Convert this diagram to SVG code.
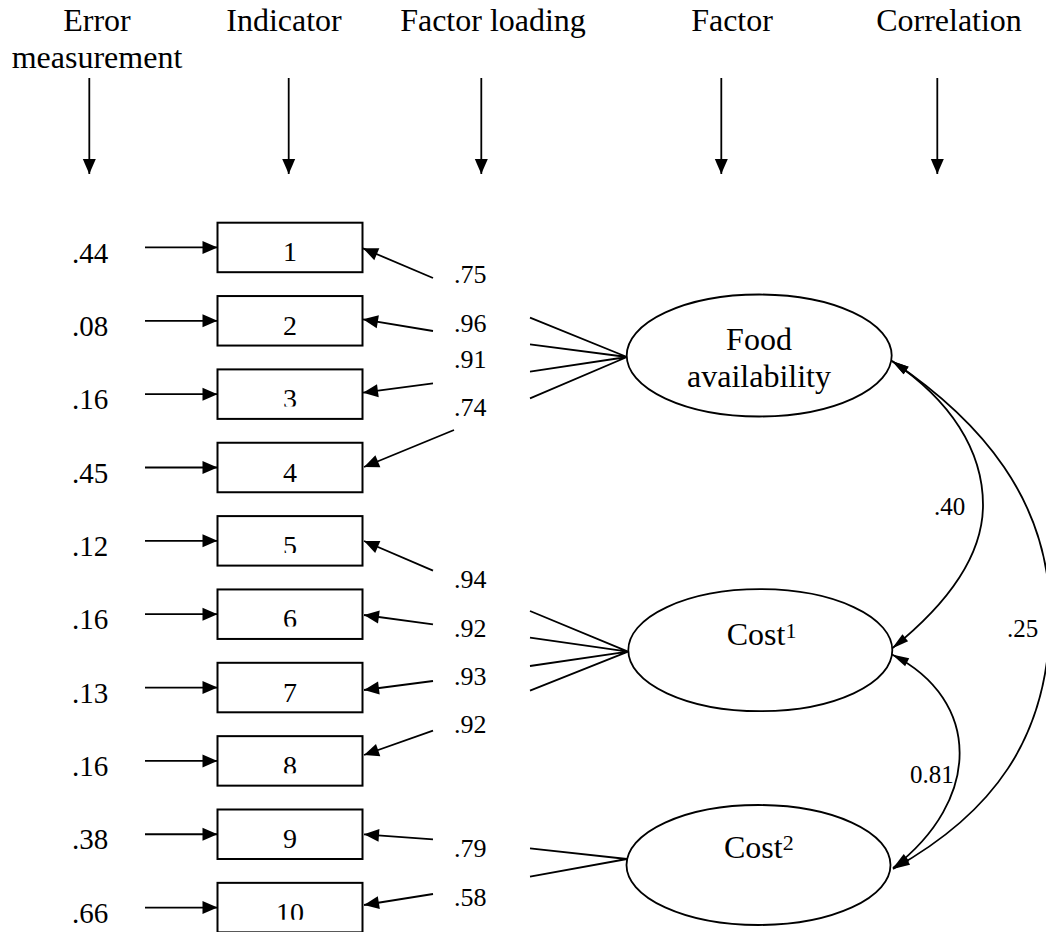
<svg xmlns="http://www.w3.org/2000/svg" width="1046" height="932" viewBox="0 0 1046 932">
  <style>
    text { font-family: "Liberation Serif", "Times New Roman", serif; fill: #000; }
    .hd { font-size: 32px; text-anchor: middle; }
    .err { font-size: 29px; text-anchor: middle; }
    .num { font-size: 28px; text-anchor: middle; }
    .ld { font-size: 26px; }
    .cr { font-size: 25px; }
    .fac { font-size: 32px; }
    .sup { font-size: 22px; }
    .ind rect { fill: #fff; stroke: #000; stroke-width: 2; }
    .fac-node ellipse { fill: #fff; stroke: #000; stroke-width: 1.8; }
    .arr { fill: none; stroke: #000; stroke-width: 1.8; marker-end: url(#head); }
    .fan { fill: none; stroke: #000; stroke-width: 1.8; }
    .cov { fill: none; stroke: #000; stroke-width: 1.8; marker-start: url(#headC); marker-end: url(#headC); }
  </style>
  <defs>
    <marker id="head" markerUnits="userSpaceOnUse" markerWidth="16" markerHeight="14" refX="15" refY="6.5" orient="auto" overflow="visible">
      <path d="M0,0 L15,6.5 L0,13 z" fill="#000"/>
    </marker>
    <marker id="headC" markerUnits="userSpaceOnUse" markerWidth="18" markerHeight="10" refX="17" refY="4.5" orient="auto-start-reverse" overflow="visible">
      <path d="M0,0 L17,4.5 L0,9 z" fill="#000"/>
    </marker>
    <!-- trims the lower edge of the boxed numerals -->
    <clipPath id="trim" clipPathUnits="objectBoundingBox">
      <rect x="-0.1" y="0" width="1.2" height="0.75"/>
    </clipPath>
  </defs>
  <rect width="1046" height="932" fill="#fff"/>

  <!-- column headings -->
  <g id="headers">
    <text class="hd" x="97" y="31">Error</text>
    <text class="hd" x="97" y="68">measurement</text>
    <text class="hd" x="284" y="31">Indicator</text>
    <text class="hd" x="493" y="31">Factor loading</text>
    <text class="hd" x="732" y="31">Factor</text>
    <text class="hd" x="949" y="31">Correlation</text>
  </g>

  <!-- connectors -->
  <g id="connectors">
    <!-- heading arrows -->
    <line class="arr" x1="89.3" y1="78" x2="89.3" y2="174"/>
    <line class="arr" x1="288.7" y1="78" x2="288.7" y2="174"/>
    <line class="arr" x1="481.3" y1="78" x2="481.3" y2="174"/>
    <line class="arr" x1="721.3" y1="78" x2="721.3" y2="174"/>
    <line class="arr" x1="937.3" y1="78" x2="937.3" y2="174"/>

    <!-- error terms into indicators -->
    <line class="arr" x1="145" y1="247.45" x2="217.5" y2="247.45"/>
    <line class="arr" x1="145" y1="320.8" x2="217.5" y2="320.8"/>
    <line class="arr" x1="145" y1="394.15" x2="217.5" y2="394.15"/>
    <line class="arr" x1="145" y1="467.5" x2="217.5" y2="467.5"/>
    <line class="arr" x1="145" y1="540.85" x2="217.5" y2="540.85"/>
    <line class="arr" x1="145" y1="614.2" x2="217.5" y2="614.2"/>
    <line class="arr" x1="145" y1="687.55" x2="217.5" y2="687.55"/>
    <line class="arr" x1="145" y1="760.9" x2="217.5" y2="760.9"/>
    <line class="arr" x1="145" y1="834.25" x2="217.5" y2="834.25"/>
    <line class="arr" x1="145" y1="907.6" x2="217.5" y2="907.6"/>

    <!-- loadings into indicators -->
    <line class="arr" x1="433" y1="278" x2="363" y2="248.3"/>
    <line class="arr" x1="433" y1="331" x2="363" y2="319.3"/>
    <line class="arr" x1="433" y1="383.3" x2="363" y2="392.7"/>
    <line class="arr" x1="454" y1="430" x2="364" y2="467"/>
    <line class="arr" x1="433" y1="570.7" x2="364" y2="541"/>
    <line class="arr" x1="433" y1="624.3" x2="364" y2="615"/>
    <line class="arr" x1="433" y1="681" x2="364" y2="690"/>
    <line class="arr" x1="433" y1="730.7" x2="364" y2="755"/>
    <line class="arr" x1="433" y1="839.3" x2="364" y2="834.3"/>
    <line class="arr" x1="433" y1="894" x2="364" y2="905"/>

    <!-- fans out of the factors -->
    <path class="fan" d="M530,317.7 L627,357 M530,344.3 L627,357 M530,371.7 L627,357 M530,398.3 L627,357"/>
    <path class="fan" d="M530,611 L628,651.7 M530,637.7 L628,651.7 M530,666 L628,651.7 M530,690.7 L628,651.7"/>
    <path class="fan" d="M530,848.3 L627,859 M530,876.7 L627,859"/>

    <!-- factor correlations -->
    <path class="cov" d="M892,361 C950,400 983,450 983,505 C983,560 940,610 892,648.5"/>
    <path class="cov" d="M892,361 C980,420 1050,500 1050,615 C1050,740 990,815 893,869"/>
    <path class="cov" d="M892,654.5 C982,700 982,800 893,868"/>
  </g>

  <!-- error variances -->
  <g id="errors">
    <text class="err" x="90" y="262.5">.44</text>
    <text class="err" x="90" y="335.8">.08</text>
    <text class="err" x="90" y="409.2">.16</text>
    <text class="err" x="90" y="482.5">.45</text>
    <text class="err" x="90" y="555.9">.12</text>
    <text class="err" x="90" y="629.2">.16</text>
    <text class="err" x="90" y="702.6">.13</text>
    <text class="err" x="90" y="775.9">.16</text>
    <text class="err" x="90" y="849.3">.38</text>
    <text class="err" x="90" y="922.6">.66</text>
  </g>

  <!-- indicators -->
  <g id="ind1" class="ind"><rect x="217.5" y="222.7" width="145" height="49.5"/><text class="num" x="290" y="261.45">1</text></g>
  <g id="ind2" class="ind"><rect x="217.5" y="296.05" width="145" height="49.5"/><text class="num" x="290" y="334.8">2</text></g>
  <g id="ind3" class="ind"><rect x="217.5" y="369.4" width="145" height="49.5"/><text class="num" x="290" y="408.15" clip-path="url(#trim)">3</text></g>
  <g id="ind4" class="ind"><rect x="217.5" y="442.75" width="145" height="49.5"/><text class="num" x="290" y="481.5">4</text></g>
  <g id="ind5" class="ind"><rect x="217.5" y="516.1" width="145" height="49.5"/><text class="num" x="290" y="554.85" clip-path="url(#trim)">5</text></g>
  <g id="ind6" class="ind"><rect x="217.5" y="589.45" width="145" height="49.5"/><text class="num" x="290" y="628.2" clip-path="url(#trim)">6</text></g>
  <g id="ind7" class="ind"><rect x="217.5" y="662.8" width="145" height="49.5"/><text class="num" x="290" y="701.55">7</text></g>
  <g id="ind8" class="ind"><rect x="217.5" y="736.15" width="145" height="49.5"/><text class="num" x="290" y="774.9" clip-path="url(#trim)">8</text></g>
  <g id="ind9" class="ind"><rect x="217.5" y="809.5" width="145" height="49.5"/><text class="num" x="290" y="848.25">9</text></g>
  <g id="ind10" class="ind"><rect x="217.5" y="882.85" width="145" height="49.5"/><text class="num" x="290" y="921.6" clip-path="url(#trim)">10</text></g>

  <!-- factor loadings -->
  <g id="loadings">
    <text class="ld" x="454" y="282.7">.75</text>
    <text class="ld" x="454" y="331.7">.96</text>
    <text class="ld" x="454" y="368.3">.91</text>
    <text class="ld" x="454" y="416">.74</text>
    <text class="ld" x="454" y="588.3">.94</text>
    <text class="ld" x="454" y="637.3">.92</text>
    <text class="ld" x="454" y="685">.93</text>
    <text class="ld" x="454" y="733.3">.92</text>
    <text class="ld" x="454" y="857.3">.79</text>
    <text class="ld" x="454" y="906">.58</text>
  </g>

  <!-- factors -->
  <g id="food" class="fac-node">
    <ellipse cx="759.2" cy="355.5" rx="132.5" ry="61"/>
    <text class="fac" x="759" y="350" text-anchor="middle">Food</text>
    <text class="fac" x="759" y="386.7" text-anchor="middle">availability</text>
  </g>
  <g id="cost1" class="fac-node">
    <ellipse cx="760.3" cy="650.2" rx="132" ry="61"/>
    <text class="fac" x="726.7" y="645">Cost<tspan class="sup" dy="-7">1</tspan></text>
  </g>
  <g id="cost2" class="fac-node">
    <ellipse cx="758.5" cy="865" rx="132" ry="60"/>
    <text class="fac" x="724" y="858.3">Cost<tspan class="sup" dy="-8">2</tspan></text>
  </g>

  <!-- correlation values -->
  <g id="correlations">
    <text class="cr" x="934" y="515">.40</text>
    <text class="cr" x="1007" y="637">.25</text>
    <text class="cr" x="910" y="783">0.81</text>
  </g>
</svg>
